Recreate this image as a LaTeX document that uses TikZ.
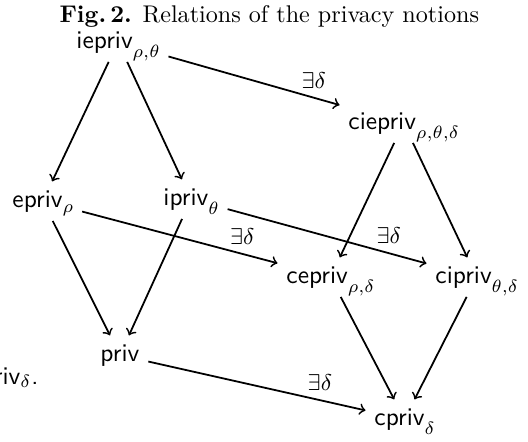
\documentclass[tikz,border=0pt]{standalone}
\newcommand{\lsub}[1]{\raisebox{\dimexpr-\height+1pt\relax}[0pt][0pt]{$\scriptstyle#1$}}
\begin{document}
\begin{tikzpicture}[x=0.3937pt,y=-0.3937pt,
  notion/.style={font=\sffamily, anchor=base west},
  arr/.style={->, line width=0.7pt},
  lbl/.style={above, font=\small, pos=0.82}]
\useasboundingbox (0,0) rectangle (528,441);
\clip (0,0) rectangle (528,441);
\node[anchor=base west, inner sep=0pt, font=\fontsize{9.5}{11}\selectfont] (title) at (59,22) {\textbf{Fig.\,2.} Relations of the privacy notions};
\node[notion] (iepriv) at (67.5,48) {iepriv\lsub{\rho,\theta}};
\node[notion] (ciepriv) at (339.5,129) {ciepriv\lsub{\rho,\theta,\delta}};
\node[notion] (epriv) at (3.5,207) {epriv\lsub{\rho}};
\node[notion] (ipriv) at (154.5,205) {ipriv\lsub{\theta}};
\node[notion] (cepriv) at (277.5,283) {cepriv\lsub{\rho,\delta}};
\node[notion] (cipriv) at (426.5,283) {cipriv\lsub{\theta,\delta}};
\node[notion] (priv) at (91.5,361) {priv};
\node[notion] (cpriv) at (365.5,425) {cpriv\lsub{\delta}};
\node[font=\sffamily, anchor=base east, inner sep=0pt] (frag) at (39,384) {cpriv$_{\delta}$.};
\draw[arr] (iepriv) -- (epriv);
\draw[arr] (iepriv) -- (ipriv);
\draw[arr] (iepriv) -- node[lbl, pos=0.85] {$\exists\delta$} (ciepriv);
\draw[arr] (ciepriv) -- (cepriv);
\draw[arr] (ciepriv) -- (cipriv);
\draw[arr] (epriv) -- (priv);
\draw[arr] (ipriv) -- (priv);
\draw[arr] (epriv) -- node[lbl] {$\exists\delta$} (cepriv);
\draw[arr] (ipriv) -- node[lbl, pos=0.81] {$\exists\delta$} (cipriv);
\draw[arr] (cepriv) -- (cpriv);
\draw[arr] (cipriv) -- (cpriv);
\draw[arr] (priv) -- node[lbl, pos=0.79] {$\exists\delta$} (cpriv);
\end{tikzpicture}
\end{document}
